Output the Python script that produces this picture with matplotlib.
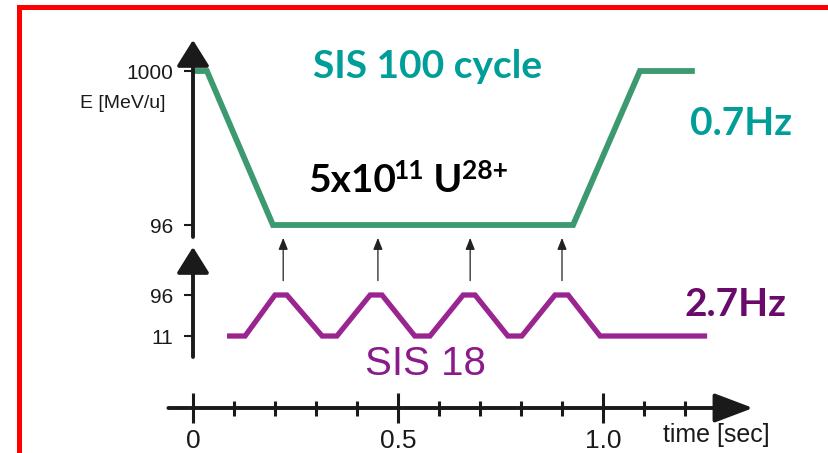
import matplotlib
matplotlib.use('Agg')
import matplotlib.pyplot as plt
from matplotlib.patches import Rectangle

# SIS100 cycle: time [s] vs energy [MeV/u]
sis100_t = [0.0, 0.034, 0.195, 0.927, 1.090, 1.224]
sis100_e = [1000, 1000, 96, 96, 1000, 1000]

# SIS18 booster cycles
sis18_t = [0.083, 0.127, 0.200, 0.229, 0.315, 0.351, 0.432, 0.461, 0.541,
           0.578, 0.659, 0.688, 0.768, 0.802, 0.883, 0.915, 0.993, 1.254]
sis18_e = [11, 11, 96, 96, 11, 11, 96, 96, 11,
           11, 96, 96, 11, 11, 96, 96, 11, 11]

# injections from SIS18 into SIS100
injection_t = [0.220, 0.451, 0.676, 0.900]

sis100_ticks = [96, 1000]
sis18_ticks = [11, 96]
time_major = [0, 0.5, 1.0]
time_major_labels = ['0', '0.5', '1.0']
time_minor = [0.1, 0.2, 0.3, 0.4, 0.6, 0.7, 0.8, 0.9, 1.1, 1.2]

W, H = 829, 453
XLIM = (-193 / 410, (W - 193) / 410)
BLACK = '#1a1a1a'
GREEN = '#3d9a70'
TEAL = '#009e98'
MAGENTA = '#9b2590'
PURPLE = '#6a0a6b'
SANS = 'Liberation Sans'
BOLD = dict(fontweight='bold', family='Lato')


def fy(ypx):
    return 1 - ypx / H


def bare(ax):
    ax.set_xlim(XLIM)
    for s in ax.spines.values():
        s.set_visible(False)
    ax.spines['left'].set_position(('data', 0))
    ax.patch.set_alpha(0)
    ax.tick_params(bottom=False, labelbottom=False)


def vaxis(ax):
    ax.annotate('', xy=(0, 1), xytext=(0, 0), xycoords=('data', 'axes fraction'),
                arrowprops=dict(arrowstyle='-|>,head_length=0.8,head_width=0.5',
                                mutation_scale=20, lw=2.8, color=BLACK,
                                shrinkA=0, shrinkB=0))
    ax.tick_params(axis='y', direction='out', length=6.5, width=1.5,
                   color=BLACK, labelsize=15, pad=8, labelcolor=BLACK)
    for lab in ax.get_yticklabels():
        lab.set_family(SANS)


fig = plt.figure(figsize=(W / 100, H / 100), dpi=100)

# upper panel: SIS100
ax1 = fig.add_axes([0, fy(237), 1, (237 - 40) / H])
bare(ax1)
ax1.set_ylim(25.6, 1182)
ax1.set_yticks(sis100_ticks)
vaxis(ax1)
ax1.plot(sis100_t, sis100_e, color=GREEN, lw=4.2, solid_joinstyle='miter',
         solid_capstyle='butt')
ax1.text(-0.066, 812, 'E [MeV/u]', ha='right', va='center', fontsize=14,
         family=SANS, color=BLACK)
ax1.text(0.293, 959, 'SIS 100 cycle', fontsize=28, color=TEAL,
         va='baseline', **BOLD)
ax1.text(1.212, 624, '0.7Hz', fontsize=28, color=TEAL, va='baseline', **BOLD)

t1 = ax1.text(0.280, 290, '5x10', fontsize=28, color='black',
              va='baseline', **BOLD)
t2 = ax1.annotate('11', xy=(1, 1), xycoords=t1, xytext=(-2, 3),
                  textcoords='offset points', fontsize=19,
                  va='top', ha='left', **BOLD)
t3 = ax1.annotate(' U', xy=(1, 0), xycoords=(t2, t1), fontsize=28,
                  va='bottom', ha='left', **BOLD)
ax1.annotate('28+', xy=(1, 1), xycoords=t3, xytext=(0, 3),
             textcoords='offset points', fontsize=19,
             va='top', ha='left', **BOLD)

# lower panel: SIS18
ax2 = fig.add_axes([0, fy(357), 1, (357 - 247) / H])
bare(ax2)
ax2.set_ylim(-32.5, 195.5)
ax2.set_yticks(sis18_ticks)
vaxis(ax2)
ax2.plot(sis18_t, sis18_e, color=MAGENTA, lw=3.8, solid_joinstyle='miter',
         solid_capstyle='butt')
ax2.text(1.2, 52.5, '2.7Hz', fontsize=28, color=PURPLE, va='baseline', **BOLD)
ax2.text(0.4195, -69.8, 'SIS 18', fontsize=29, family=SANS,
         color='#8b1a8b', va='baseline')
for t in injection_t:
    ax2.annotate('', xy=(t, 1.083), xytext=(t, 0.694),
                 xycoords=('data', 'axes fraction'),
                 arrowprops=dict(arrowstyle='-|>,head_length=0.5,head_width=0.2',
                                 mutation_scale=14, lw=0.9, color='#222222',
                                 shrinkA=0, shrinkB=0))

# time axis
ax3 = fig.add_axes([0, fy(408), 1, 0.05])
ax3.set_xlim(XLIM)
ax3.set_ylim(0, 1)
ax3.patch.set_alpha(0)
for s in ax3.spines.values():
    s.set_visible(False)
ax3.set_yticks([])
ax3.set_xticks(time_major)
ax3.set_xticklabels(time_major_labels, family=SANS)
ax3.set_xticks(time_minor, minor=True)
ax3.tick_params(axis='x', which='major', direction='inout', length=20.9,
                width=2.2, color=BLACK, labelsize=19, pad=5, labelcolor=BLACK)
ax3.tick_params(axis='x', which='minor', direction='inout', length=10.8,
                width=2.2, color=BLACK)
ax3.annotate('', xy=(1.366, 0), xytext=(-0.06, 0),
             xycoords=('data', 'axes fraction'),
             arrowprops=dict(arrowstyle='-|>,head_length=1.19,head_width=0.45',
                             mutation_scale=20, lw=2.8, color=BLACK,
                             shrinkA=0, shrinkB=0))
ax3.annotate('time [sec]', xy=(1.146, 0), xycoords=('data', 'axes fraction'),
             xytext=(0, -11), textcoords='offset points',
             fontsize=18, family=SANS, color=BLACK, va='top', ha='left')

# red frame around the slide
fig.add_artist(Rectangle((19 / W, -0.5), 2, fy(7) + 0.5,
                         transform=fig.transFigure, fill=False,
                         edgecolor='#ff0000', lw=3.6))

fig.savefig('out.png', dpi=100)
